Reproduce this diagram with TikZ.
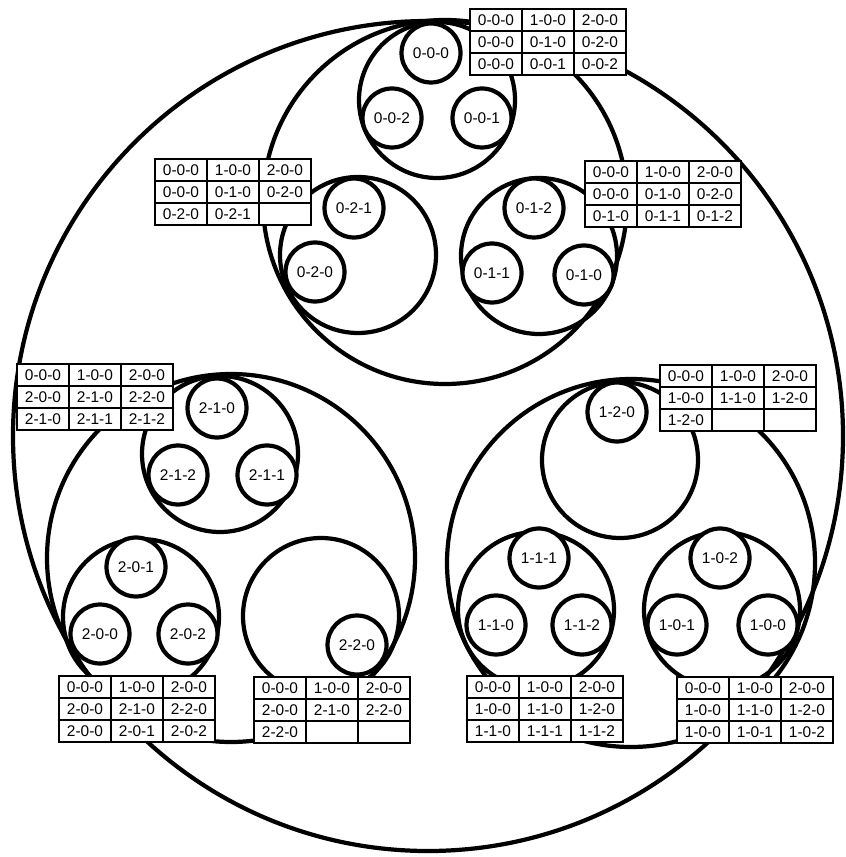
\documentclass[tikz,border=0pt]{standalone}
\usepackage{fontspec}
\setmainfont{Liberation Sans}
\usetikzlibrary{matrix}

\begin{document}
\begin{tikzpicture}[x=0.02cm, y=-0.02cm,
    ring/.style={line width=2.4pt},
    leaf/.style={circle, draw, line width=2.4pt, fill=white, minimum size=1.18cm, inner sep=0pt,
      font=\fontsize{8.8}{10}\selectfont},
    codetable/.style={matrix of nodes, nodes in empty cells, anchor=north west, inner sep=0pt, outer sep=0pt,
      column sep=-1.1pt, row sep=-1.1pt,
      nodes={draw, line width=1.1pt, fill=white, minimum width=1.04cm, minimum height=0.44cm, inner sep=0pt,
        anchor=center, font=\fontsize{8.8}{10}\selectfont}}]
  \useasboundingbox (0,0) rectangle (845,857);

  \draw[ring] (428,436) circle (415);
  \draw[ring] (445,202) circle (182);
  \draw[ring] (231,558) circle (184);
  \draw[ring] (631,563) circle (184);

  \draw[ring] (437,100) circle (78);
  \draw[ring] (358,255) circle (78);
  \draw[ring] (539,256) circle (78);
  \draw[ring] (220,454) circle (78);
  \draw[ring] (141,617) circle (78);
  \draw[ring] (321,616) circle (78);
  \draw[ring] (620,460) circle (78);
  \draw[ring] (536,610) circle (78);
  \draw[ring] (722,610) circle (78);

  \node[leaf] (l000) at (431,53) {0-0-0};
  \node[leaf] (l002) at (392,118) {0-0-2};
  \node[leaf] (l001) at (482,118) {0-0-1};
  \node[leaf] (l021) at (354,208) {0-2-1};
  \node[leaf] (l020) at (315,272) {0-2-0};
  \node[leaf] (l012) at (534,208) {0-1-2};
  \node[leaf] (l011) at (492,273) {0-1-1};
  \node[leaf] (l010) at (584,275) {0-1-0};
  \node[leaf] (l210) at (217,408) {2-1-0};
  \node[leaf] (l212) at (178,475) {2-1-2};
  \node[leaf] (l211) at (267,475) {2-1-1};
  \node[leaf] (l201) at (136,567) {2-0-1};
  \node[leaf] (l200) at (100,634) {2-0-0};
  \node[leaf] (l202) at (188,634) {2-0-2};
  \node[leaf] (l220) at (357,645) {2-2-0};
  \node[leaf] (l120) at (617,412) {1-2-0};
  \node[leaf] (l111) at (539,558) {1-1-1};
  \node[leaf] (l110) at (496,625) {1-1-0};
  \node[leaf] (l112) at (582,625) {1-1-2};
  \node[leaf] (l102) at (720,558) {1-0-2};
  \node[leaf] (l101) at (677,625) {1-0-1};
  \node[leaf] (l100) at (768,625) {1-0-0};

  \matrix (t00) [codetable] at (469,8) {
    0-0-0 & 1-0-0 & 2-0-0 \\
    0-0-0 & 0-1-0 & 0-2-0 \\
    0-0-0 & 0-0-1 & 0-0-2 \\
  };
  \matrix (t02) [codetable] at (154,158) {
    0-0-0 & 1-0-0 & 2-0-0 \\
    0-0-0 & 0-1-0 & 0-2-0 \\
    0-2-0 & 0-2-1 & \\
  };
  \matrix (t01) [codetable] at (584,160) {
    0-0-0 & 1-0-0 & 2-0-0 \\
    0-0-0 & 0-1-0 & 0-2-0 \\
    0-1-0 & 0-1-1 & 0-1-2 \\
  };
  \matrix (t21) [codetable] at (16,363) {
    0-0-0 & 1-0-0 & 2-0-0 \\
    2-0-0 & 2-1-0 & 2-2-0 \\
    2-1-0 & 2-1-1 & 2-1-2 \\
  };
  \matrix (t12) [codetable] at (659,364) {
    0-0-0 & 1-0-0 & 2-0-0 \\
    1-0-0 & 1-1-0 & 1-2-0 \\
    1-2-0 & & \\
  };
  \matrix (t20) [codetable] at (58,675) {
    0-0-0 & 1-0-0 & 2-0-0 \\
    2-0-0 & 2-1-0 & 2-2-0 \\
    2-0-0 & 2-0-1 & 2-0-2 \\
  };
  \matrix (t22) [codetable] at (253,676) {
    0-0-0 & 1-0-0 & 2-0-0 \\
    2-0-0 & 2-1-0 & 2-2-0 \\
    2-2-0 & & \\
  };
  \matrix (t11) [codetable] at (466,675) {
    0-0-0 & 1-0-0 & 2-0-0 \\
    1-0-0 & 1-1-0 & 1-2-0 \\
    1-1-0 & 1-1-1 & 1-1-2 \\
  };
  \matrix (t10) [codetable] at (676,676) {
    0-0-0 & 1-0-0 & 2-0-0 \\
    1-0-0 & 1-1-0 & 1-2-0 \\
    1-0-0 & 1-0-1 & 1-0-2 \\
  };
\end{tikzpicture}
\end{document}
